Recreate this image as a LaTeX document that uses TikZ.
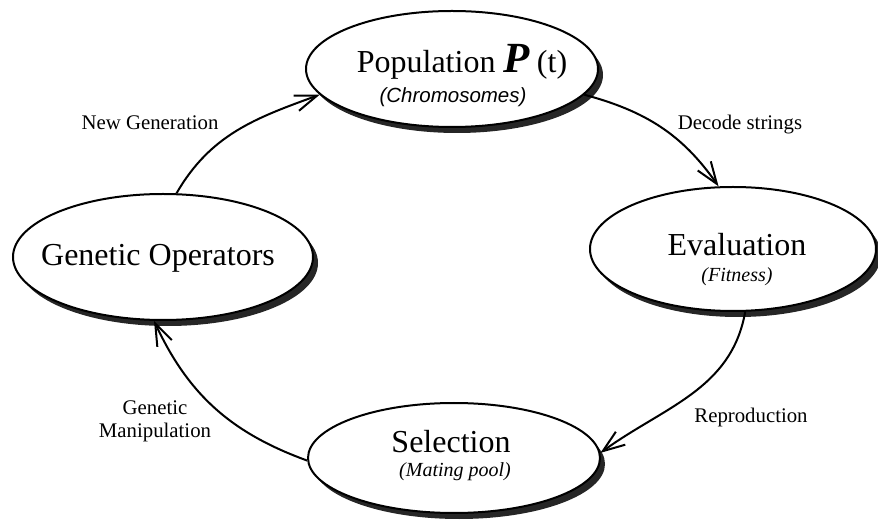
\documentclass[tikz,border=0pt]{standalone}
\usepackage{fontspec}
\setmainfont{Liberation Serif}
\newfontfamily\subsans{Liberation Sans}
\usetikzlibrary{arrows.meta,shapes.geometric}
\begin{document}
\begin{tikzpicture}[x=1pt,y=1pt,
  blob/.style={ellipse, draw, line width=2pt, fill=white, inner sep=0pt},
  shadowblob/.style={ellipse, fill=black!85, inner sep=0pt},
  big/.style={font=\fontsize{32}{36}\selectfont, inner sep=0pt},
  sub/.style={font=\fontsize{20}{24}\selectfont\itshape, inner sep=0pt},
  lab/.style={font=\fontsize{20.8}{23}\selectfont, align=center, inner sep=0pt},
  flow/.style={line width=2pt, -{Straight Barb[length=22pt,width=16pt,line width=2pt]}}
]
\useasboundingbox (0,0) rectangle (878,525);

% shadows
\node[shadowblob, minimum width=292pt, minimum height=116pt] (popS) at (457,450) {};
\node[shadowblob, minimum width=286pt, minimum height=124pt] (evalS) at (738,270) {};
\node[shadowblob, minimum width=300pt, minimum height=126pt] (genS) at (168,262) {};
\node[shadowblob, minimum width=292pt, minimum height=110pt] (selS) at (459,61) {};

% ellipses
\node[blob, minimum width=292pt, minimum height=116pt] (pop) at (452,456) {};
\node[blob, minimum width=286pt, minimum height=124pt] (eval) at (733,276) {};
\node[blob, minimum width=300pt, minimum height=126pt] (gen) at (163,268) {};
\node[blob, minimum width=292pt, minimum height=110pt] (sel) at (454,67) {};

% texts
\node[big] (popT) at (462,463) {Population {\fontsize{43}{44}\selectfont\bfseries\itshape P\,}(t)};
\node[sub, font=\fontsize{20.5}{24}\selectfont\subsans\itshape] (popC) at (453,428) {(Chromosomes)};
\node[big] (evalT) at (737,280) {Evaluation};
\node[sub] (evalF) at (737,248) {(Fitness)};
\node[big] (genT) at (158,267) {Genetic Operators};
\node[big] (selT) at (451,83) {Selection};
\node[sub] (selM) at (455,53) {(Mating pool)};

% labels
\node[lab] (lNew) at (150,402) {New Generation};
\node[lab] (lDec) at (740,400) {Decode strings};
\node[lab] (lRep) at (751,108) {Reproduction};
\node[lab] (lMan) at (155,104) {Genetic\\Manipulation};

% connectors
\draw[flow] (gen.78) to[out=60,in=200] (pop.191);
\draw[flow] (pop.-11) to[out=-15,in=125] (eval.103);
\draw[flow] (eval.-79) to[out=-100,in=36] (sel.2);
\draw[flow] (sel.181) to[out=160,in=-65] (gen.262);
\end{tikzpicture}
\end{document}
